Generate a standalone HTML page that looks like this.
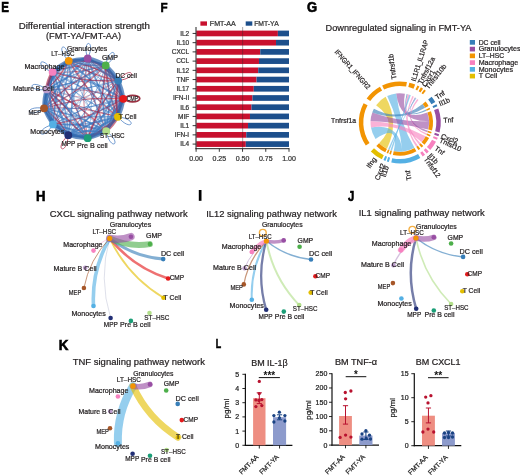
<!DOCTYPE html>
<html><head><meta charset="utf-8"><style>
html,body{margin:0;padding:0;background:#fff;overflow:hidden;width:520px;height:476px;}
svg{display:block;font-family:"Liberation Sans",sans-serif;will-change:transform;}
</style></head><body>
<svg width="520" height="476" viewBox="0 0 520 476">
<rect width="520" height="476" fill="#fff"/>
<text x="1.20" y="12.30" font-size="13.72" fill="#000" font-weight="bold" textLength="7.70" lengthAdjust="spacingAndGlyphs" stroke="#000" stroke-width="0.6">E</text>
<text x="160.50" y="12.30" font-size="13.44" fill="#000" font-weight="bold" textLength="7.10" lengthAdjust="spacingAndGlyphs" stroke="#000" stroke-width="0.6">F</text>
<text x="306.90" y="12.10" font-size="13.72" fill="#000" font-weight="bold" textLength="10.10" lengthAdjust="spacingAndGlyphs" stroke="#000" stroke-width="0.6">G</text>
<text x="36.10" y="200.70" font-size="13.99" fill="#000" font-weight="bold" textLength="9.50" lengthAdjust="spacingAndGlyphs" stroke="#000" stroke-width="0.6">H</text>
<rect x="198.8" y="190.0" width="2.7" height="10.8" fill="#000"/>
<text x="348.00" y="200.60" font-size="14.13" fill="#000" font-weight="bold" textLength="6.30" lengthAdjust="spacingAndGlyphs" stroke="#000" stroke-width="0.6">J</text>
<text x="58.80" y="349.50" font-size="14.27" fill="#000" font-weight="bold" textLength="9.70" lengthAdjust="spacingAndGlyphs" stroke="#000" stroke-width="0.6">K</text>
<text x="215.70" y="347.80" font-size="12.35" fill="#000" font-weight="bold" textLength="5.40" lengthAdjust="spacingAndGlyphs" stroke="#000" stroke-width="0.6">L</text>
<text x="18.70" y="28.60" font-size="9.50" fill="#231f20" stroke="#231f20" stroke-width="0.22" textLength="131.20" lengthAdjust="spacingAndGlyphs">Differential interaction strength</text>
<text x="46.00" y="39.30" font-size="9.30" fill="#231f20" stroke="#231f20" stroke-width="0.22" textLength="75.00" lengthAdjust="spacingAndGlyphs">(FMT-YA/FMT-AA)</text>
<text x="325.50" y="31.00" font-size="9.30" fill="#231f20" stroke="#231f20" stroke-width="0.22" textLength="146.00" lengthAdjust="spacingAndGlyphs">Downregulated signaling in FMT-YA</text>
<text x="49.80" y="216.80" font-size="9.40" fill="#231f20" stroke="#231f20" stroke-width="0.22" textLength="137.90" lengthAdjust="spacingAndGlyphs">CXCL signaling pathway network</text>
<text x="206.20" y="216.80" font-size="9.40" fill="#231f20" stroke="#231f20" stroke-width="0.22" textLength="130.70" lengthAdjust="spacingAndGlyphs">IL12 signaling pathway network</text>
<text x="358.70" y="216.40" font-size="9.40" fill="#231f20" stroke="#231f20" stroke-width="0.22" textLength="126.10" lengthAdjust="spacingAndGlyphs">IL1 signaling pathway network</text>
<text x="72.70" y="365.40" font-size="9.40" fill="#231f20" stroke="#231f20" stroke-width="0.22" textLength="132.30" lengthAdjust="spacingAndGlyphs">TNF signaling pathway network</text>
<g fill="none" stroke-linecap="round">
<path d="M87.70,58.40 Q79.72,98.30 87.70,138.20" stroke="#a81c3c" stroke-width="0.89" stroke-opacity="0.6"/>
<path d="M87.70,58.40 Q70.32,94.86 68.30,135.20" stroke="#3a78c0" stroke-width="0.80" stroke-opacity="0.6"/>
<path d="M87.70,58.40 Q89.67,96.65 106.20,131.20" stroke="#3a78c0" stroke-width="1.50" stroke-opacity="0.6"/>
<path d="M68.30,135.20 Q66.78,101.98 52.60,71.90" stroke="#3a78c0" stroke-width="1.50" stroke-opacity="0.6"/>
<path d="M118.20,80.60 Q81.52,77.84 46.60,89.40" stroke="#3a78c0" stroke-width="1.09" stroke-opacity="0.6"/>
<path d="M46.60,89.40 Q84.01,101.77 123.30,98.80" stroke="#a81c3c" stroke-width="0.62" stroke-opacity="0.6"/>
<path d="M123.30,98.80 Q90.64,78.28 52.60,71.90" stroke="#3a78c0" stroke-width="1.49" stroke-opacity="0.6"/>
<path d="M44.00,108.30 Q80.10,119.94 117.90,116.80" stroke="#3a78c0" stroke-width="0.82" stroke-opacity="0.6"/>
<path d="M52.90,124.40 Q85.20,100.18 105.70,65.40" stroke="#3a78c0" stroke-width="0.70" stroke-opacity="0.6"/>
<path d="M52.90,124.40 Q89.93,109.03 118.20,80.60" stroke="#3a78c0" stroke-width="1.00" stroke-opacity="0.6"/>
<path d="M68.30,135.20 Q93.98,104.04 105.70,65.40" stroke="#3a78c0" stroke-width="1.01" stroke-opacity="0.6"/>
<path d="M117.90,116.80 Q116.94,89.88 105.70,65.40" stroke="#a81c3c" stroke-width="1.47" stroke-opacity="0.6"/>
<path d="M105.70,65.40 Q106.66,92.32 117.90,116.80" stroke="#a81c3c" stroke-width="1.63" stroke-opacity="0.6"/>
<path d="M44.00,108.30 Q70.84,87.72 87.70,58.40" stroke="#3a78c0" stroke-width="1.01" stroke-opacity="0.6"/>
<path d="M106.20,131.20 Q94.49,92.25 68.70,60.80" stroke="#a81c3c" stroke-width="0.80" stroke-opacity="0.6"/>
<path d="M118.20,80.60 Q107.14,104.70 106.20,131.20" stroke="#3a78c0" stroke-width="0.92" stroke-opacity="0.6"/>
<path d="M52.60,71.90 Q73.47,106.91 106.20,131.20" stroke="#3a78c0" stroke-width="0.90" stroke-opacity="0.6"/>
<path d="M68.30,135.20 Q62.03,110.13 46.60,89.40" stroke="#3a78c0" stroke-width="1.58" stroke-opacity="0.6"/>
<path d="M117.90,116.80 Q81.80,105.16 44.00,108.30" stroke="#a81c3c" stroke-width="0.86" stroke-opacity="0.6"/>
<path d="M106.20,131.20 Q112.53,98.25 105.70,65.40" stroke="#3a78c0" stroke-width="1.08" stroke-opacity="0.6"/>
<path d="M68.70,60.80 Q80.41,99.75 106.20,131.20" stroke="#3a78c0" stroke-width="0.80" stroke-opacity="0.6"/>
<path d="M87.70,138.20 Q76.78,101.54 52.60,71.90" stroke="#a81c3c" stroke-width="1.46" stroke-opacity="0.6"/>
<path d="M44.00,108.30 Q83.87,101.87 118.20,80.60" stroke="#a81c3c" stroke-width="0.67" stroke-opacity="0.6"/>
<path d="M106.20,131.20 Q77.39,113.53 44.00,108.30" stroke="#3a78c0" stroke-width="1.27" stroke-opacity="0.6"/>
<path d="M52.90,124.40 Q58.00,98.12 52.60,71.90" stroke="#3a78c0" stroke-width="1.27" stroke-opacity="0.6"/>
<path d="M117.90,116.80 Q84.99,95.97 46.60,89.40" stroke="#3a78c0" stroke-width="0.60" stroke-opacity="0.6"/>
<path d="M106.20,131.20 Q80.23,122.47 52.90,124.40" stroke="#3a78c0" stroke-width="1.65" stroke-opacity="0.6"/>
<path d="M68.70,60.80 Q70.46,101.40 87.70,138.20" stroke="#3a78c0" stroke-width="0.88" stroke-opacity="0.6"/>
<path d="M44.00,108.30 Q72.81,125.97 106.20,131.20" stroke="#3a78c0" stroke-width="1.39" stroke-opacity="0.6"/>
<path d="M44.00,108.30 Q61.10,87.02 68.70,60.80" stroke="#3a78c0" stroke-width="1.14" stroke-opacity="0.6"/>
<path d="M68.30,135.20 Q98.71,112.89 118.20,80.60" stroke="#3a78c0" stroke-width="1.38" stroke-opacity="0.6"/>
<path d="M105.70,65.40 Q73.40,89.62 52.90,124.40" stroke="#3a78c0" stroke-width="1.05" stroke-opacity="0.6"/>
<path d="M68.70,60.80 Q87.70,93.72 117.90,116.80" stroke="#a81c3c" stroke-width="1.48" stroke-opacity="0.6"/>
<path d="M52.60,71.90 Q79.80,73.96 105.70,65.40" stroke="#a81c3c" stroke-width="0.94" stroke-opacity="0.6"/>
<path d="M105.70,65.40 Q99.37,98.35 106.20,131.20" stroke="#3a78c0" stroke-width="1.17" stroke-opacity="0.6"/>
<path d="M52.90,124.40 Q76.90,94.88 87.70,58.40" stroke="#3a78c0" stroke-width="1.42" stroke-opacity="0.6"/>
<path d="M117.90,116.80 Q89.74,87.82 52.60,71.90" stroke="#3a78c0" stroke-width="0.79" stroke-opacity="0.6"/>
<path d="M118.20,80.60 Q81.17,95.97 52.90,124.40" stroke="#3a78c0" stroke-width="0.65" stroke-opacity="0.6"/>
<path d="M87.70,138.20 Q95.68,98.30 87.70,58.40" stroke="#3a78c0" stroke-width="0.69" stroke-opacity="0.6"/>
<path d="M87.70,138.20 Q108.71,112.45 118.20,80.60" stroke="#3a78c0" stroke-width="1.68" stroke-opacity="0.6"/>
<path d="M105.70,65.40 Q73.75,71.49 46.60,89.40" stroke="#3a78c0" stroke-width="1.24" stroke-opacity="0.6"/>
<path d="M52.90,124.40 Q67.16,94.18 68.70,60.80" stroke="#3a78c0" stroke-width="1.55" stroke-opacity="0.6"/>
<path d="M106.20,131.20 Q80.58,104.34 46.60,89.40" stroke="#a81c3c" stroke-width="1.47" stroke-opacity="0.6"/>
<path d="M123.30,98.80 Q85.54,104.56 52.90,124.40" stroke="#3a78c0" stroke-width="0.90" stroke-opacity="0.6"/>
<path d="M87.70,58.40 Q60.86,78.98 44.00,108.30" stroke="#3a78c0" stroke-width="1.54" stroke-opacity="0.6"/>
<path d="M46.60,89.40 Q79.51,110.23 117.90,116.80" stroke="#a81c3c" stroke-width="0.93" stroke-opacity="0.6"/>
<path d="M118.20,80.60 Q97.19,106.35 87.70,138.20" stroke="#a81c3c" stroke-width="1.46" stroke-opacity="0.6"/>
<path d="M68.70,60.80 Q92.20,85.26 123.30,98.80" stroke="#3a78c0" stroke-width="1.34" stroke-opacity="0.6"/>
<path d="M117.90,116.80 Q84.64,114.10 52.90,124.40" stroke="#3a78c0" stroke-width="1.13" stroke-opacity="0.6"/>
<path d="M52.60,71.90 Q85.26,92.42 123.30,98.80" stroke="#3a78c0" stroke-width="1.14" stroke-opacity="0.6"/>
<path d="M52.60,71.90 Q80.76,100.88 117.90,116.80" stroke="#3a78c0" stroke-width="0.96" stroke-opacity="0.6"/>
<path d="M52.90,124.40 Q90.66,118.64 123.30,98.80" stroke="#a81c3c" stroke-width="1.29" stroke-opacity="0.6"/>
<path d="M123.30,98.80 Q92.16,111.50 68.30,135.20" stroke="#3a78c0" stroke-width="1.65" stroke-opacity="0.6"/>
<path d="M123.30,98.80 Q99.80,74.34 68.70,60.80" stroke="#3a78c0" stroke-width="0.92" stroke-opacity="0.6"/>
<path d="M87.70,138.20 Q68.84,118.88 44.00,108.30" stroke="#3a78c0" stroke-width="0.85" stroke-opacity="0.6"/>
<path d="M68.70,60.80 Q91.47,75.65 118.20,80.60" stroke="#a81c3c" stroke-width="1.57" stroke-opacity="0.6"/>
<path d="M87.70,58.40 Q96.96,90.62 117.90,116.80" stroke="#3a78c0" stroke-width="1.43" stroke-opacity="0.6"/>
<path d="M106.20,131.20 Q85.33,96.19 52.60,71.90" stroke="#3a78c0" stroke-width="0.62" stroke-opacity="0.6"/>
<path d="M117.90,116.80 Q91.26,121.04 68.30,135.20" stroke="#3a78c0" stroke-width="1.67" stroke-opacity="0.6"/>
<path d="M106.20,131.20 Q104.23,92.95 87.70,58.40" stroke="#3a78c0" stroke-width="1.11" stroke-opacity="0.6"/>
<path d="M44.00,108.30 Q84.60,111.48 123.30,98.80" stroke="#3a78c0" stroke-width="1.06" stroke-opacity="0.6"/>
<path d="M68.70,60.80 Q54.44,91.02 52.90,124.40" stroke="#3a78c0" stroke-width="1.21" stroke-opacity="0.6"/>
<path d="M68.30,135.20 Q94.94,130.96 117.90,116.80" stroke="#3a78c0" stroke-width="1.16" stroke-opacity="0.6"/>
<path d="M105.70,65.40 Q70.56,80.68 44.00,108.30" stroke="#a81c3c" stroke-width="1.19" stroke-opacity="0.6"/>
<path d="M117.90,116.80 Q108.64,84.58 87.70,58.40" stroke="#3a78c0" stroke-width="0.85" stroke-opacity="0.6"/>
<path d="M46.60,89.40 Q72.22,116.26 106.20,131.20" stroke="#3a78c0" stroke-width="1.66" stroke-opacity="0.6"/>
<path d="M117.90,116.80 Q98.90,83.88 68.70,60.80" stroke="#3a78c0" stroke-width="1.08" stroke-opacity="0.6"/>
<path d="M52.60,71.90 Q84.53,82.81 118.20,80.60" stroke="#a81c3c" stroke-width="1.35" stroke-opacity="0.6"/>
<path d="M52.90,124.40 Q86.16,127.10 117.90,116.80" stroke="#3a78c0" stroke-width="1.22" stroke-opacity="0.6"/>
<path d="M87.70,138.20 Q72.03,109.69 46.60,89.40" stroke="#a81c3c" stroke-width="1.24" stroke-opacity="0.6"/>
<path d="M105.70,65.40 Q78.50,63.34 52.60,71.90" stroke="#a81c3c" stroke-width="0.85" stroke-opacity="0.6"/>
<path d="M44.00,108.30 Q79.14,93.02 105.70,65.40" stroke="#a81c3c" stroke-width="1.16" stroke-opacity="0.6"/>
<path d="M118.20,80.60 Q78.33,87.03 44.00,108.30" stroke="#3a78c0" stroke-width="0.74" stroke-opacity="0.6"/>
<path d="M87.70,138.20 Q103.98,103.60 105.70,65.40" stroke="#a81c3c" stroke-width="1.21" stroke-opacity="0.6"/>
<path d="M52.60,71.90 Q54.12,105.12 68.30,135.20" stroke="#3a78c0" stroke-width="1.23" stroke-opacity="0.6"/>
<path d="M46.60,89.40 Q62.27,117.91 87.70,138.20" stroke="#a81c3c" stroke-width="1.53" stroke-opacity="0.6"/>
<path d="M123.30,98.80 Q85.89,86.43 46.60,89.40" stroke="#a81c3c" stroke-width="0.73" stroke-opacity="0.6"/>
<path d="M87.70,58.40 Q64.05,69.79 46.60,89.40" stroke="#3a78c0" stroke-width="0.82" stroke-opacity="0.6"/>
<path d="M123.30,98.80 Q82.70,95.62 44.00,108.30" stroke="#a81c3c" stroke-width="0.93" stroke-opacity="0.6"/>
<path d="M123.30,98.80 Q109.54,75.04 87.70,58.40" stroke="#a81c3c" stroke-width="0.80" stroke-opacity="0.6"/>
<path d="M68.30,135.20 Q99.44,122.50 123.30,98.80" stroke="#3a78c0" stroke-width="1.46" stroke-opacity="0.6"/>
<path d="M68.30,135.20 Q85.68,98.74 87.70,58.40" stroke="#3a78c0" stroke-width="0.77" stroke-opacity="0.6"/>
<path d="M46.60,89.40 Q83.28,92.16 118.20,80.60" stroke="#3a78c0" stroke-width="1.00" stroke-opacity="0.6"/>
<path d="M46.60,89.40 Q78.55,83.31 105.70,65.40" stroke="#3a78c0" stroke-width="1.60" stroke-opacity="0.6"/>
<path d="M106.20,131.20 Q117.26,107.10 118.20,80.60" stroke="#a81c3c" stroke-width="0.87" stroke-opacity="0.6"/>
<path d="M118.20,80.60 Q95.43,65.75 68.70,60.80" stroke="#a81c3c" stroke-width="1.66" stroke-opacity="0.6"/>
<path d="M52.60,71.90 Q47.50,98.18 52.90,124.40" stroke="#3a78c0" stroke-width="1.20" stroke-opacity="0.6"/>
<path d="M46.60,89.40 Q52.87,114.47 68.30,135.20" stroke="#a81c3c" stroke-width="0.93" stroke-opacity="0.6"/>
<path d="M52.90,124.40 Q78.87,133.13 106.20,131.20" stroke="#3a78c0" stroke-width="1.52" stroke-opacity="0.6"/>
<path d="M46.60,89.40 Q70.25,78.01 87.70,58.40" stroke="#3a78c0" stroke-width="1.35" stroke-opacity="0.6"/>
<path d="M52.60,71.90 Q63.52,108.56 87.70,138.20" stroke="#3a78c0" stroke-width="1.69" stroke-opacity="0.6"/>
<path d="M87.70,138.20 Q109.44,122.06 123.30,98.80" stroke="#3a78c0" stroke-width="1.70" stroke-opacity="0.6"/>
<path d="M68.30,135.20 Q75.94,98.04 68.70,60.80" stroke="#3a78c0" stroke-width="1.48" stroke-opacity="0.6"/>
<path d="M52.60,71.90 Q71.50,68.66 87.70,58.40" stroke="#3a78c0" stroke-width="1.45" stroke-opacity="0.6"/>
<path d="M105.70,65.40 Q111.16,83.86 123.30,98.80" stroke="#3a78c0" stroke-width="1.33" stroke-opacity="0.6"/>
<path d="M52.60,71.90 Q44.66,89.24 44.00,108.30" stroke="#3a78c0" stroke-width="2.03" stroke-opacity="0.6"/>
<path d="M68.30,135.20 Q58.84,119.32 44.00,108.30" stroke="#a81c3c" stroke-width="1.47" stroke-opacity="0.6"/>
<path d="M117.90,116.80 Q121.67,98.73 118.20,80.60" stroke="#a81c3c" stroke-width="1.99" stroke-opacity="0.6"/>
<path d="M123.30,98.80 Q111.51,113.29 106.20,131.20" stroke="#3a78c0" stroke-width="2.14" stroke-opacity="0.6"/>
<path d="M106.20,131.20 Q86.85,129.41 68.30,135.20" stroke="#3a78c0" stroke-width="1.96" stroke-opacity="0.6"/>
<path d="M68.30,135.20 Q87.65,136.99 106.20,131.20" stroke="#3a78c0" stroke-width="2.19" stroke-opacity="0.6"/>
<path d="M117.90,116.80 Q100.66,124.48 87.70,138.20" stroke="#3a78c0" stroke-width="2.14" stroke-opacity="0.6"/>
<path d="M44.00,108.30 Q53.46,124.18 68.30,135.20" stroke="#3a78c0" stroke-width="1.43" stroke-opacity="0.6"/>
<path d="M105.70,65.40 Q87.66,59.40 68.70,60.80" stroke="#a81c3c" stroke-width="1.83" stroke-opacity="0.6"/>
<path d="M52.90,124.40 Q53.25,106.27 46.60,89.40" stroke="#3a78c0" stroke-width="2.18" stroke-opacity="0.6"/>
<path d="M87.70,58.40 Q68.80,61.64 52.60,71.90" stroke="#3a78c0" stroke-width="2.20" stroke-opacity="0.6"/>
<path d="M87.70,138.20 Q71.68,127.82 52.90,124.40" stroke="#3a78c0" stroke-width="1.66" stroke-opacity="0.6"/>
<path d="M44.00,108.30 Q51.94,90.96 52.60,71.90" stroke="#3a78c0" stroke-width="1.24" stroke-opacity="0.6"/>
<path d="M46.60,89.40 Q46.25,107.53 52.90,124.40" stroke="#3a78c0" stroke-width="2.16" stroke-opacity="0.6"/>
<path d="M87.70,138.20 Q104.94,130.52 117.90,116.80" stroke="#a81c3c" stroke-width="2.19" stroke-opacity="0.6"/>
<path d="M118.20,80.60 Q114.43,98.67 117.90,116.80" stroke="#a81c3c" stroke-width="1.95" stroke-opacity="0.6"/>
<path d="M118.20,80.60 Q105.17,66.45 87.70,58.40" stroke="#a81c3c" stroke-width="1.32" stroke-opacity="0.6"/>
<path d="M87.70,58.40 Q100.73,72.55 118.20,80.60" stroke="#3a78c0" stroke-width="2.15" stroke-opacity="0.6"/>
<path d="M52.90,124.40 Q68.92,134.78 87.70,138.20" stroke="#3a78c0" stroke-width="1.94" stroke-opacity="0.6"/>
<path d="M68.70,60.80 Q86.74,66.80 105.70,65.40" stroke="#3a78c0" stroke-width="1.59" stroke-opacity="0.6"/>
<path d="M106.20,131.20 Q117.99,116.71 123.30,98.80" stroke="#a81c3c" stroke-width="1.78" stroke-opacity="0.6"/>
<path d="M123.30,98.80 Q117.84,80.34 105.70,65.40" stroke="#a81c3c" stroke-width="1.42" stroke-opacity="0.6"/>
<path d="M68.70,60.80 Q54.79,72.89 46.60,89.40" stroke="#3a78c0" stroke-width="1.63" stroke-opacity="0.6"/>
<path d="M46.60,89.40 Q60.51,77.31 68.70,60.80" stroke="#a81c3c" stroke-width="1.31" stroke-opacity="0.6"/>
<path d="M52.60,71.90 Q61.76,67.96 68.70,60.80" stroke="#2c64ab" stroke-width="3.72" stroke-opacity="0.7"/>
<path d="M46.60,89.40 Q43.41,98.59 44.00,108.30" stroke="#2c64ab" stroke-width="3.33" stroke-opacity="0.7"/>
<path d="M105.70,65.40 Q97.40,60.10 87.70,58.40" stroke="#2c64ab" stroke-width="3.69" stroke-opacity="0.7"/>
<path d="M105.70,65.40 Q110.43,74.25 118.20,80.60" stroke="#2c64ab" stroke-width="3.35" stroke-opacity="0.7"/>
<path d="M68.70,60.80 Q59.54,64.74 52.60,71.90" stroke="#2c64ab" stroke-width="3.45" stroke-opacity="0.7"/>
<path d="M52.90,124.40 Q50.06,115.46 44.00,108.30" stroke="#2c64ab" stroke-width="3.64" stroke-opacity="0.7"/>
<path d="M117.90,116.80 Q122.40,108.34 123.30,98.80" stroke="#2c64ab" stroke-width="3.75" stroke-opacity="0.7"/>
<path d="M123.30,98.80 Q122.57,89.19 118.20,80.60" stroke="#2c64ab" stroke-width="3.65" stroke-opacity="0.7"/>
<path d="M46.60,89.40 Q51.35,81.25 52.60,71.90" stroke="#2c64ab" stroke-width="3.67" stroke-opacity="0.7"/>
<path d="M87.70,138.20 Q97.65,136.55 106.20,131.20" stroke="#2c64ab" stroke-width="3.09" stroke-opacity="0.7"/>
<path d="M118.20,80.60 Q118.93,90.21 123.30,98.80" stroke="#2c64ab" stroke-width="3.26" stroke-opacity="0.7"/>
<path d="M68.70,60.80 Q78.44,61.50 87.70,58.40" stroke="#2c64ab" stroke-width="3.18" stroke-opacity="0.7"/>
<path d="M87.70,58.40 Q77.96,57.70 68.70,60.80" stroke="#2c64ab" stroke-width="2.66" stroke-opacity="0.7"/>
<path d="M52.60,71.90 Q47.85,80.05 46.60,89.40" stroke="#a81c3c" stroke-width="3.24" stroke-opacity="0.6"/>
<path d="M68.30,135.20 Q77.70,138.64 87.70,138.20" stroke="#2c64ab" stroke-width="3.35" stroke-opacity="0.7"/>
<path d="M106.20,131.20 Q113.49,125.17 117.90,116.80" stroke="#a81c3c" stroke-width="2.66" stroke-opacity="0.6"/>
<path d="M87.70,138.20 Q78.30,134.76 68.30,135.20" stroke="#2c64ab" stroke-width="3.31" stroke-opacity="0.7"/>
<path d="M118.20,80.60 Q113.47,71.75 105.70,65.40" stroke="#2c64ab" stroke-width="3.40" stroke-opacity="0.7"/>
<path d="M123.30,98.80 Q118.80,107.26 117.90,116.80" stroke="#2c64ab" stroke-width="3.49" stroke-opacity="0.7"/>
<path d="M52.90,124.40 Q59.52,131.34 68.30,135.20" stroke="#2c64ab" stroke-width="3.02" stroke-opacity="0.7"/>
<path d="M106.20,131.20 Q96.25,132.85 87.70,138.20" stroke="#2c64ab" stroke-width="3.75" stroke-opacity="0.7"/>
<path d="M87.70,58.40 Q96.00,63.70 105.70,65.40" stroke="#2c64ab" stroke-width="2.86" stroke-opacity="0.7"/>
<path d="M117.90,116.80 Q110.61,122.83 106.20,131.20" stroke="#2c64ab" stroke-width="3.41" stroke-opacity="0.7"/>
<path d="M68.30,135.20 Q61.68,128.26 52.90,124.40" stroke="#2c64ab" stroke-width="3.01" stroke-opacity="0.7"/>
<path d="M44.00,108.30 Q47.19,99.11 46.60,89.40" stroke="#2c64ab" stroke-width="2.82" stroke-opacity="0.7"/>
<path d="M44.00,108.30 Q46.84,117.24 52.90,124.40" stroke="#2c64ab" stroke-width="2.76" stroke-opacity="0.7"/>
</g>
<g fill="none">
<path d="M117.90,116.80 C139.25,119.37 131.60,133.37 117.90,116.80" stroke="#3b73bd" stroke-width="0.9" stroke-opacity="0.8"/>
<path d="M106.20,131.20 C123.76,143.61 110.38,152.29 106.20,131.20" stroke="#3b73bd" stroke-width="0.9" stroke-opacity="0.8"/>
<path d="M68.30,135.20 C67.03,156.66 52.59,149.88 68.30,135.20" stroke="#a81c3c" stroke-width="0.9" stroke-opacity="0.8"/>
<path d="M52.90,124.40 C42.11,142.99 32.27,130.44 52.90,124.40" stroke="#3b73bd" stroke-width="0.9" stroke-opacity="0.8"/>
<path d="M44.00,108.30 C26.27,120.47 22.77,104.91 44.00,108.30" stroke="#3b73bd" stroke-width="0.9" stroke-opacity="0.8"/>
<path d="M46.60,89.40 C25.30,92.33 29.14,76.85 46.60,89.40" stroke="#3b73bd" stroke-width="0.9" stroke-opacity="0.8"/>
<path d="M52.60,71.90 C32.14,65.30 42.32,53.02 52.60,71.90" stroke="#3b73bd" stroke-width="0.9" stroke-opacity="0.8"/>
<path d="M68.70,60.80 C53.43,45.67 68.06,39.31 68.70,60.80" stroke="#3b73bd" stroke-width="0.9" stroke-opacity="0.8"/>
<path d="M87.70,58.40 C80.92,38.00 96.84,38.94 87.70,58.40" stroke="#3b73bd" stroke-width="0.9" stroke-opacity="0.8"/>
<path d="M105.70,65.40 C109.25,44.19 122.88,52.47 105.70,65.40" stroke="#3b73bd" stroke-width="0.9" stroke-opacity="0.8"/>
<path d="M118.20,80.60 C131.73,63.89 139.52,77.81 118.20,80.60" stroke="#a81c3c" stroke-width="0.9" stroke-opacity="0.8"/>
<ellipse cx="132.6" cy="98.6" rx="7.2" ry="3.3" stroke="#8e1b2e" stroke-width="1.7" stroke-opacity="0.9"/>
<path d="M123.3,98.8 L126,98.6" stroke="#8e1b2e" stroke-width="1.5"/>
</g>
<circle cx="123.3" cy="98.8" r="3.9" fill="#E41A1C"/>
<circle cx="117.9" cy="116.8" r="3.9" fill="#E3BE00"/>
<circle cx="106.2" cy="131.2" r="3.9" fill="#B2DF8A"/>
<circle cx="87.7" cy="138.2" r="3.9" fill="#1B9E77"/>
<circle cx="68.3" cy="135.2" r="3.9" fill="#222F75"/>
<circle cx="52.9" cy="124.4" r="3.9" fill="#54B0E4"/>
<circle cx="44.0" cy="108.3" r="3.9" fill="#A65628"/>
<circle cx="46.6" cy="89.4" r="3.9" fill="#BC9DCC"/>
<circle cx="52.6" cy="71.9" r="3.9" fill="#F781BF"/>
<circle cx="68.7" cy="60.8" r="3.9" fill="#F29403"/>
<circle cx="87.7" cy="58.4" r="3.9" fill="#984EA3"/>
<circle cx="105.7" cy="65.4" r="3.9" fill="#4DAF4A"/>
<circle cx="118.2" cy="80.6" r="3.9" fill="#377EB8"/>
<text x="66.90" y="50.60" font-size="6.90" fill="#231f20" stroke="#231f20" stroke-width="0.22" textLength="40.40" lengthAdjust="spacingAndGlyphs">Granulocytes</text>
<text x="51.20" y="55.80" font-size="6.90" fill="#231f20" stroke="#231f20" stroke-width="0.22" textLength="23.40" lengthAdjust="spacingAndGlyphs">LT–HSC</text>
<text x="101.90" y="59.80" font-size="6.90" fill="#231f20" stroke="#231f20" stroke-width="0.22" textLength="16.00" lengthAdjust="spacingAndGlyphs">GMP</text>
<text x="24.60" y="69.20" font-size="6.90" fill="#231f20" stroke="#231f20" stroke-width="0.22" textLength="40.00" lengthAdjust="spacingAndGlyphs">Macrophage</text>
<text x="115.40" y="77.50" font-size="6.90" fill="#231f20" stroke="#231f20" stroke-width="0.22" textLength="21.60" lengthAdjust="spacingAndGlyphs">DC cell</text>
<text x="12.90" y="91.00" font-size="6.90" fill="#231f20" stroke="#231f20" stroke-width="0.22" textLength="40.90" lengthAdjust="spacingAndGlyphs">Mature B Cell</text>
<text x="126.90" y="100.90" font-size="6.90" fill="#231f20" stroke="#231f20" stroke-width="0.22" textLength="11.40" lengthAdjust="spacingAndGlyphs">CMP</text>
<text x="28.60" y="114.60" font-size="6.90" fill="#231f20" stroke="#231f20" stroke-width="0.22" textLength="12.40" lengthAdjust="spacingAndGlyphs">MEP</text>
<text x="118.80" y="119.40" font-size="6.90" fill="#231f20" stroke="#231f20" stroke-width="0.22" textLength="17.60" lengthAdjust="spacingAndGlyphs">T Cell</text>
<text x="30.30" y="133.80" font-size="6.90" fill="#231f20" stroke="#231f20" stroke-width="0.22" textLength="34.00" lengthAdjust="spacingAndGlyphs">Monocytes</text>
<text x="100.00" y="137.80" font-size="6.90" fill="#231f20" stroke="#231f20" stroke-width="0.22" textLength="24.60" lengthAdjust="spacingAndGlyphs">ST–HSC</text>
<text x="61.50" y="146.20" font-size="6.90" fill="#231f20" stroke="#231f20" stroke-width="0.22" textLength="13.90" lengthAdjust="spacingAndGlyphs">MPP</text>
<text x="76.90" y="147.70" font-size="6.90" fill="#231f20" stroke="#231f20" stroke-width="0.22" textLength="30.80" lengthAdjust="spacingAndGlyphs">Pre B cell</text>
<rect x="196.3" y="30.60" width="81.58" height="5.7" fill="#c8102e"/>
<rect x="277.88" y="30.60" width="11.12" height="5.7" fill="#1c4f8c"/>
<line x1="192.6" y1="33.45" x2="196.1" y2="33.45" stroke="#222" stroke-width="0.9"/>
<text x="189.20" y="35.75" font-size="6.50" fill="#333" stroke="#333" stroke-width="0.22" text-anchor="end">IL2</text>
<rect x="196.3" y="39.82" width="79.72" height="5.7" fill="#c8102e"/>
<rect x="276.02" y="39.82" width="12.98" height="5.7" fill="#1c4f8c"/>
<line x1="192.6" y1="42.67" x2="196.1" y2="42.67" stroke="#222" stroke-width="0.9"/>
<text x="189.20" y="44.97" font-size="6.50" fill="#333" stroke="#333" stroke-width="0.22" text-anchor="end">IL10</text>
<rect x="196.3" y="49.04" width="63.96" height="5.7" fill="#c8102e"/>
<rect x="260.26" y="49.04" width="28.74" height="5.7" fill="#1c4f8c"/>
<line x1="192.6" y1="51.89" x2="196.1" y2="51.89" stroke="#222" stroke-width="0.9"/>
<text x="189.20" y="54.19" font-size="6.50" fill="#333" stroke="#333" stroke-width="0.22" text-anchor="end">CXCL</text>
<rect x="196.3" y="58.26" width="62.67" height="5.7" fill="#c8102e"/>
<rect x="258.97" y="58.26" width="30.03" height="5.7" fill="#1c4f8c"/>
<line x1="192.6" y1="61.11" x2="196.1" y2="61.11" stroke="#222" stroke-width="0.9"/>
<text x="189.20" y="63.41" font-size="6.50" fill="#333" stroke="#333" stroke-width="0.22" text-anchor="end">CCL</text>
<rect x="196.3" y="67.48" width="61.92" height="5.7" fill="#c8102e"/>
<rect x="258.22" y="67.48" width="30.78" height="5.7" fill="#1c4f8c"/>
<line x1="192.6" y1="70.33" x2="196.1" y2="70.33" stroke="#222" stroke-width="0.9"/>
<text x="189.20" y="72.63" font-size="6.50" fill="#333" stroke="#333" stroke-width="0.22" text-anchor="end">IL12</text>
<rect x="196.3" y="76.70" width="60.25" height="5.7" fill="#c8102e"/>
<rect x="256.56" y="76.70" width="32.44" height="5.7" fill="#1c4f8c"/>
<line x1="192.6" y1="79.55" x2="196.1" y2="79.55" stroke="#222" stroke-width="0.9"/>
<text x="189.20" y="81.85" font-size="6.50" fill="#333" stroke="#333" stroke-width="0.22" text-anchor="end">TNF</text>
<rect x="196.3" y="85.92" width="57.47" height="5.7" fill="#c8102e"/>
<rect x="253.77" y="85.92" width="35.23" height="5.7" fill="#1c4f8c"/>
<line x1="192.6" y1="88.77" x2="196.1" y2="88.77" stroke="#222" stroke-width="0.9"/>
<text x="189.20" y="91.07" font-size="6.50" fill="#333" stroke="#333" stroke-width="0.22" text-anchor="end">IL17</text>
<rect x="196.3" y="95.14" width="56.18" height="5.7" fill="#c8102e"/>
<rect x="252.48" y="95.14" width="36.52" height="5.7" fill="#1c4f8c"/>
<line x1="192.6" y1="97.99" x2="196.1" y2="97.99" stroke="#222" stroke-width="0.9"/>
<text x="189.20" y="100.29" font-size="6.50" fill="#333" stroke="#333" stroke-width="0.22" text-anchor="end">IFN-II</text>
<rect x="196.3" y="104.36" width="55.16" height="5.7" fill="#c8102e"/>
<rect x="251.46" y="104.36" width="37.54" height="5.7" fill="#1c4f8c"/>
<line x1="192.6" y1="107.21" x2="196.1" y2="107.21" stroke="#222" stroke-width="0.9"/>
<text x="189.20" y="109.51" font-size="6.50" fill="#333" stroke="#333" stroke-width="0.22" text-anchor="end">IL6</text>
<rect x="196.3" y="113.58" width="53.67" height="5.7" fill="#c8102e"/>
<rect x="249.97" y="113.58" width="39.03" height="5.7" fill="#1c4f8c"/>
<line x1="192.6" y1="116.43" x2="196.1" y2="116.43" stroke="#222" stroke-width="0.9"/>
<text x="189.20" y="118.73" font-size="6.50" fill="#333" stroke="#333" stroke-width="0.22" text-anchor="end">MIF</text>
<rect x="196.3" y="122.80" width="51.73" height="5.7" fill="#c8102e"/>
<rect x="248.03" y="122.80" width="40.97" height="5.7" fill="#1c4f8c"/>
<line x1="192.6" y1="125.65" x2="196.1" y2="125.65" stroke="#222" stroke-width="0.9"/>
<text x="189.20" y="127.95" font-size="6.50" fill="#333" stroke="#333" stroke-width="0.22" text-anchor="end">IL1</text>
<rect x="196.3" y="132.02" width="49.97" height="5.7" fill="#c8102e"/>
<rect x="246.27" y="132.02" width="42.73" height="5.7" fill="#1c4f8c"/>
<line x1="192.6" y1="134.87" x2="196.1" y2="134.87" stroke="#222" stroke-width="0.9"/>
<text x="189.20" y="137.17" font-size="6.50" fill="#333" stroke="#333" stroke-width="0.22" text-anchor="end">IFN-I</text>
<rect x="196.3" y="141.24" width="49.50" height="5.7" fill="#c8102e"/>
<rect x="245.80" y="141.24" width="43.20" height="5.7" fill="#1c4f8c"/>
<line x1="192.6" y1="144.09" x2="196.1" y2="144.09" stroke="#222" stroke-width="0.9"/>
<text x="189.20" y="146.39" font-size="6.50" fill="#333" stroke="#333" stroke-width="0.22" text-anchor="end">IL4</text>
<line x1="242.65" y1="27" x2="242.65" y2="148.7" stroke="#3a2a2a" stroke-width="0.6" stroke-opacity="0.7"/>
<line x1="196.0" y1="27" x2="196.0" y2="149.2" stroke="#222" stroke-width="1.0"/>
<line x1="195.5" y1="148.7" x2="289.5" y2="148.7" stroke="#222" stroke-width="1.0"/>
<line x1="196.10" y1="148.7" x2="196.10" y2="151.8" stroke="#222" stroke-width="0.9"/>
<text x="196.10" y="161.10" font-size="7.00" fill="#333" stroke="#333" stroke-width="0.22" text-anchor="middle">0.00</text>
<line x1="219.32" y1="148.7" x2="219.32" y2="151.8" stroke="#222" stroke-width="0.9"/>
<text x="219.32" y="161.10" font-size="7.00" fill="#333" stroke="#333" stroke-width="0.22" text-anchor="middle">0.25</text>
<line x1="242.55" y1="148.7" x2="242.55" y2="151.8" stroke="#222" stroke-width="0.9"/>
<text x="242.55" y="161.10" font-size="7.00" fill="#333" stroke="#333" stroke-width="0.22" text-anchor="middle">0.50</text>
<line x1="265.77" y1="148.7" x2="265.77" y2="151.8" stroke="#222" stroke-width="0.9"/>
<text x="265.77" y="161.10" font-size="7.00" fill="#333" stroke="#333" stroke-width="0.22" text-anchor="middle">0.75</text>
<line x1="289.00" y1="148.7" x2="289.00" y2="151.8" stroke="#222" stroke-width="0.9"/>
<text x="289.00" y="161.10" font-size="7.00" fill="#333" stroke="#333" stroke-width="0.22" text-anchor="middle">1.00</text>
<rect x="200.4" y="21.4" width="6.6" height="4.3" fill="#c8102e"/>
<text x="209.80" y="25.80" font-size="6.60" fill="#333" stroke="#333" stroke-width="0.22" textLength="26.00" lengthAdjust="spacingAndGlyphs">FMT-AA</text>
<rect x="245.7" y="21.4" width="6.6" height="4.3" fill="#1c4f8c"/>
<text x="254.20" y="25.80" font-size="6.60" fill="#333" stroke="#333" stroke-width="0.22" textLength="24.50" lengthAdjust="spacingAndGlyphs">FMT-YA</text>
<path d="M386.96,148.83 A29.3,29.3 0 0 1 379.08,143.22 Q399.8,122.5 376.10,105.28 A29.3,29.3 0 0 1 385.60,96.87 Q399.8,122.5 386.96,148.83 Z" fill="#E3BE00" fill-opacity="0.62"/>
<path d="M402.35,151.69 A29.3,29.3 0 0 1 393.71,151.16 Q399.8,122.5 375.51,138.88 A29.3,29.3 0 0 1 370.95,127.59 Q399.8,122.5 402.35,151.69 Z" fill="#54B0E4" fill-opacity="0.62"/>
<path d="M414.45,147.87 A29.3,29.3 0 0 1 402.35,151.69 Q399.8,122.5 387.19,96.05 A29.3,29.3 0 0 1 396.23,93.42 Q399.8,122.5 414.45,147.87 Z" fill="#54B0E4" fill-opacity="0.62"/>
<path d="M425.67,136.26 A29.3,29.3 0 0 1 421.57,142.11 Q399.8,122.5 370.95,127.59 A29.3,29.3 0 0 1 370.54,120.97 Q399.8,122.5 425.67,136.26 Z" fill="#F781BF" fill-opacity="0.62"/>
<path d="M429.06,120.97 A29.3,29.3 0 0 1 428.23,129.59 Q399.8,122.5 370.54,120.97 A29.3,29.3 0 0 1 372.27,112.48 Q399.8,122.5 429.06,120.97 Z" fill="#984EA3" fill-opacity="0.62"/>
<path d="M427.33,112.48 A29.3,29.3 0 0 1 429.06,120.97 Q399.8,122.5 396.23,93.42 A29.3,29.3 0 0 1 404.89,93.65 Q399.8,122.5 427.33,112.48 Z" fill="#984EA3" fill-opacity="0.62"/>
<path d="M422.57,104.06 A29.3,29.3 0 0 1 425.17,107.85 Q399.8,122.5 372.27,112.48 A29.3,29.3 0 0 1 373.93,108.74 Q399.8,122.5 422.57,104.06 Z" fill="#377EB8" fill-opacity="0.62"/>
<path d="M426.02,109.43 A29.3,29.3 0 0 1 426.67,110.82 Q399.8,122.5 406.64,94.01 A29.3,29.3 0 0 1 407.63,94.27 Q399.8,122.5 426.02,109.43 Z" fill="#377EB8" fill-opacity="0.62"/>
<path d="M420.52,143.22 A29.3,29.3 0 0 1 419.02,144.61 Q399.8,122.5 407.63,94.27 A29.3,29.3 0 0 1 409.34,94.80 Q399.8,122.5 420.52,143.22 Z" fill="#F781BF" fill-opacity="0.62"/>
<path d="M391.97,150.73 A29.3,29.3 0 0 1 390.50,150.29 Q399.8,122.5 409.34,94.80 A29.3,29.3 0 0 1 410.78,95.33 Q399.8,122.5 391.97,150.73 Z" fill="#54B0E4" fill-opacity="0.62"/>
<path d="M417.84,145.59 A29.3,29.3 0 0 1 416.18,146.79 Q399.8,122.5 412.41,96.05 A29.3,29.3 0 0 1 413.78,96.75 Q399.8,122.5 417.84,145.59 Z" fill="#F781BF" fill-opacity="0.62"/>
<path d="M427.89,130.82 A29.3,29.3 0 0 1 427.42,132.28 Q399.8,122.5 414.89,97.38 A29.3,29.3 0 0 1 415.67,97.87 Q399.8,122.5 427.89,130.82 Z" fill="#984EA3" fill-opacity="0.62"/>
<path d="M389.54,149.94 A29.3,29.3 0 0 1 388.12,149.37 Q399.8,122.5 415.67,97.87 A29.3,29.3 0 0 1 416.40,98.35 Q399.8,122.5 389.54,149.94 Z" fill="#54B0E4" fill-opacity="0.62"/>
<path d="M426.97,133.48 A29.3,29.3 0 0 1 426.35,134.88 Q399.8,122.5 417.23,98.95 A29.3,29.3 0 0 1 418.44,99.89 Q399.8,122.5 426.97,133.48 Z" fill="#F781BF" fill-opacity="0.62"/>
<path d="M431.66,96.70 A41.0,41.0 0 0 1 435.31,102.00 L431.41,104.25 A36.5,36.5 0 0 0 428.17,99.53 Z" fill="#377EB8"/>
<path d="M425.60,101.61 A33.2,33.2 0 0 1 428.55,105.90 L425.26,107.80 A29.4,29.4 0 0 0 422.65,104.00 Z" fill="#F29403"/>
<path d="M436.49,104.21 A41.0,41.0 0 0 1 437.40,106.15 L433.27,107.95 A36.5,36.5 0 0 0 432.47,106.21 Z" fill="#377EB8"/>
<path d="M429.51,107.69 A33.2,33.2 0 0 1 430.25,109.26 L426.76,110.78 A29.4,29.4 0 0 0 426.11,109.38 Z" fill="#F29403"/>
<path d="M438.33,108.48 A41.0,41.0 0 0 1 439.58,132.42 L435.22,131.33 A36.5,36.5 0 0 0 434.10,110.02 Z" fill="#984EA3"/>
<path d="M431.00,111.14 A33.2,33.2 0 0 1 432.01,130.53 L428.33,129.61 A29.4,29.4 0 0 0 427.43,112.44 Z" fill="#F29403"/>
<path d="M439.11,134.14 A41.0,41.0 0 0 1 438.45,136.19 L434.21,134.68 A36.5,36.5 0 0 0 434.80,132.87 Z" fill="#984EA3"/>
<path d="M431.63,131.93 A33.2,33.2 0 0 1 431.10,133.58 L427.51,132.31 A29.4,29.4 0 0 0 427.99,130.85 Z" fill="#F29403"/>
<path d="M437.81,137.86 A41.0,41.0 0 0 1 436.96,139.83 L432.88,137.93 A36.5,36.5 0 0 0 433.64,136.17 Z" fill="#F781BF"/>
<path d="M430.58,134.94 A33.2,33.2 0 0 1 429.89,136.53 L426.45,134.92 A29.4,29.4 0 0 0 427.06,133.51 Z" fill="#F29403"/>
<path d="M436.00,141.75 A41.0,41.0 0 0 1 430.27,149.93 L426.92,146.92 A36.5,36.5 0 0 0 432.03,139.64 Z" fill="#F781BF"/>
<path d="M429.11,138.09 A33.2,33.2 0 0 1 424.47,144.72 L421.65,142.17 A29.4,29.4 0 0 0 425.76,136.30 Z" fill="#F29403"/>
<path d="M428.79,151.49 A41.0,41.0 0 0 1 426.70,153.44 L423.75,150.05 A36.5,36.5 0 0 0 425.61,148.31 Z" fill="#F781BF"/>
<path d="M423.28,145.98 A33.2,33.2 0 0 1 421.58,147.56 L419.09,144.69 A29.4,29.4 0 0 0 420.59,143.29 Z" fill="#F29403"/>
<path d="M425.04,154.81 A41.0,41.0 0 0 1 422.73,156.49 L420.21,152.76 A36.5,36.5 0 0 0 422.27,151.26 Z" fill="#F781BF"/>
<path d="M420.24,148.66 A33.2,33.2 0 0 1 418.37,150.02 L416.24,146.87 A29.4,29.4 0 0 0 417.90,145.67 Z" fill="#F29403"/>
<path d="M420.30,158.01 A41.0,41.0 0 0 1 391.28,162.60 L392.21,158.20 A36.5,36.5 0 0 0 418.05,154.11 Z" fill="#54B0E4"/>
<path d="M416.40,151.25 A33.2,33.2 0 0 1 392.90,154.97 L393.69,151.26 A29.4,29.4 0 0 0 414.50,147.96 Z" fill="#F29403"/>
<path d="M388.84,162.01 A41.0,41.0 0 0 1 386.79,161.38 L388.22,157.11 A36.5,36.5 0 0 0 390.05,157.67 Z" fill="#54B0E4"/>
<path d="M390.93,154.49 A33.2,33.2 0 0 1 389.27,153.98 L390.47,150.38 A29.4,29.4 0 0 0 391.94,150.83 Z" fill="#F29403"/>
<path d="M385.44,160.90 A41.0,41.0 0 0 1 383.45,160.10 L385.25,155.97 A36.5,36.5 0 0 0 387.02,156.69 Z" fill="#54B0E4"/>
<path d="M388.17,153.60 A33.2,33.2 0 0 1 386.56,152.95 L388.08,149.46 A29.4,29.4 0 0 0 389.50,150.04 Z" fill="#F29403"/>
<path d="M381.83,159.35 A41.0,41.0 0 0 1 370.81,151.49 L373.99,148.31 A36.5,36.5 0 0 0 383.80,155.31 Z" fill="#E3BE00"/>
<path d="M385.25,152.34 A33.2,33.2 0 0 1 376.32,145.98 L379.01,143.29 A29.4,29.4 0 0 0 386.91,148.92 Z" fill="#F29403"/>
<path d="M365.81,145.43 A41.0,41.0 0 0 1 363.60,103.25 L367.57,105.36 A36.5,36.5 0 0 0 369.54,142.91 Z" fill="#F29403"/>
<path d="M366.63,98.40 A41.0,41.0 0 0 1 379.92,86.64 L382.10,90.58 A36.5,36.5 0 0 0 370.27,101.05 Z" fill="#F29403"/>
<path d="M382.15,85.49 A41.0,41.0 0 0 1 406.92,82.12 L406.14,86.55 A36.5,36.5 0 0 0 384.09,89.56 Z" fill="#F29403"/>
<path d="M409.37,82.63 A41.0,41.0 0 0 1 415.16,84.49 L413.47,88.66 A36.5,36.5 0 0 0 408.32,87.01 Z" fill="#F29403"/>
<path d="M417.45,85.49 A41.0,41.0 0 0 1 419.36,86.47 L417.22,90.42 A36.5,36.5 0 0 0 415.51,89.56 Z" fill="#F29403"/>
<path d="M420.92,87.36 A41.0,41.0 0 0 1 423.02,88.71 L420.47,92.42 A36.5,36.5 0 0 0 418.60,91.21 Z" fill="#F29403"/>
<path d="M424.19,89.54 A41.0,41.0 0 0 1 425.88,90.86 L423.02,94.34 A36.5,36.5 0 0 0 421.51,93.16 Z" fill="#F29403"/>
<text x="435.73" y="97.80" font-size="7.00" fill="#231f20" stroke="#231f20" stroke-width="0.22" transform="rotate(-34.50 435.73 97.80)" dominant-baseline="central">Tnf</text>
<text x="439.32" y="104.07" font-size="7.00" fill="#231f20" stroke="#231f20" stroke-width="0.22" transform="rotate(-25.00 439.32 104.07)" dominant-baseline="central">Il1b</text>
<text x="443.34" y="120.22" font-size="7.00" fill="#231f20" stroke="#231f20" stroke-width="0.22" transform="rotate(-3.00 443.34 120.22)" dominant-baseline="central">Tnf</text>
<text x="441.27" y="135.97" font-size="7.00" fill="#231f20" stroke="#231f20" stroke-width="0.22" transform="rotate(18.00 441.27 135.97)" dominant-baseline="central">Cxcl2</text>
<text x="439.78" y="139.89" font-size="7.00" fill="#231f20" stroke="#231f20" stroke-width="0.22" transform="rotate(23.50 439.78 139.89)" dominant-baseline="central">Tnfsf10</text>
<text x="435.52" y="147.51" font-size="7.00" fill="#231f20" stroke="#231f20" stroke-width="0.22" transform="rotate(35.00 435.52 147.51)" dominant-baseline="central">Tnf</text>
<text x="429.54" y="154.39" font-size="7.00" fill="#231f20" stroke="#231f20" stroke-width="0.22" transform="rotate(47.00 429.54 154.39)" dominant-baseline="central">Il1b</text>
<text x="425.43" y="157.77" font-size="7.00" fill="#231f20" stroke="#231f20" stroke-width="0.22" transform="rotate(54.00 425.43 157.77)" dominant-baseline="central">Tnfsf12</text>
<text x="407.40" y="170.50" font-size="7.00" fill="#231f20" stroke="#231f20" stroke-width="0.22" text-anchor="end" transform="rotate(261.00 407.40 170.50)" dominant-baseline="central">Tnf</text>
<text x="386.50" y="166.01" font-size="7.00" fill="#231f20" stroke="#231f20" stroke-width="0.22" text-anchor="end" transform="rotate(287.00 386.50 166.01)" dominant-baseline="central">Il1b</text>
<text x="383.20" y="163.57" font-size="7.00" fill="#231f20" stroke="#231f20" stroke-width="0.22" text-anchor="end" transform="rotate(292.00 383.20 163.57)" dominant-baseline="central">Cxcl2</text>
<text x="374.66" y="157.75" font-size="7.00" fill="#231f20" stroke="#231f20" stroke-width="0.22" text-anchor="end" transform="rotate(305.50 374.66 157.75)" dominant-baseline="central">Ifng</text>
<text x="356.10" y="123.40" font-size="7.00" fill="#231f20" stroke="#231f20" stroke-width="0.22" text-anchor="end" textLength="25.00" lengthAdjust="spacingAndGlyphs">Tnfrsf1a</text>
<text x="369.32" y="88.05" font-size="7.00" fill="#231f20" stroke="#231f20" stroke-width="0.22" text-anchor="end" textLength="50.00" lengthAdjust="spacingAndGlyphs" transform="rotate(48.50 369.32 88.05)" dominant-baseline="central">IFNGR1_IFNGR2</text>
<text x="393.92" y="79.30" font-size="7.00" fill="#231f20" stroke="#231f20" stroke-width="0.22" transform="rotate(-97.75 393.92 79.30)" dominant-baseline="central">Tnfrsf1b</text>
<text x="413.09" y="80.98" font-size="7.00" fill="#231f20" stroke="#231f20" stroke-width="0.22" textLength="43.00" lengthAdjust="spacingAndGlyphs" transform="rotate(-72.25 413.09 80.98)" dominant-baseline="central">IL1R1_IL1RAP</text>
<text x="419.59" y="83.65" font-size="7.00" fill="#231f20" stroke="#231f20" stroke-width="0.22" transform="rotate(-63.00 419.59 83.65)" dominant-baseline="central">Tnfrsf12a</text>
<text x="423.39" y="85.83" font-size="7.00" fill="#231f20" stroke="#231f20" stroke-width="0.22" transform="rotate(-57.25 423.39 85.83)" dominant-baseline="central">Cxcr1</text>
<text x="426.64" y="88.14" font-size="7.00" fill="#231f20" stroke="#231f20" stroke-width="0.22" transform="rotate(-52.00 426.64 88.14)" dominant-baseline="central">Tnfrsf10b</text>
<rect x="469.8" y="40.00" width="5.2" height="4.7" fill="#377EB8"/>
<text x="478.70" y="44.60" font-size="7.00" fill="#231f20" stroke="#231f20" stroke-width="0.22" textLength="21.90" lengthAdjust="spacingAndGlyphs">DC cell</text>
<rect x="469.8" y="46.75" width="5.2" height="4.7" fill="#984EA3"/>
<text x="478.70" y="51.35" font-size="7.00" fill="#231f20" stroke="#231f20" stroke-width="0.22" textLength="41.90" lengthAdjust="spacingAndGlyphs">Granulocytes</text>
<rect x="469.8" y="53.50" width="5.2" height="4.7" fill="#F29403"/>
<text x="478.70" y="58.10" font-size="7.00" fill="#231f20" stroke="#231f20" stroke-width="0.22" textLength="25.50" lengthAdjust="spacingAndGlyphs">LT–HSC</text>
<rect x="469.8" y="60.25" width="5.2" height="4.7" fill="#F781BF"/>
<text x="478.70" y="64.85" font-size="7.00" fill="#231f20" stroke="#231f20" stroke-width="0.22" textLength="39.40" lengthAdjust="spacingAndGlyphs">Macrophage</text>
<rect x="469.8" y="67.00" width="5.2" height="4.7" fill="#54B0E4"/>
<text x="478.70" y="71.60" font-size="7.00" fill="#231f20" stroke="#231f20" stroke-width="0.22" textLength="34.40" lengthAdjust="spacingAndGlyphs">Monocytes</text>
<rect x="469.8" y="73.75" width="5.2" height="4.7" fill="#E3BE00"/>
<text x="478.70" y="78.35" font-size="7.00" fill="#231f20" stroke="#231f20" stroke-width="0.22" textLength="18.60" lengthAdjust="spacingAndGlyphs">T Cell</text>
<g fill="none" stroke-linecap="round">
<path d="M109.70,238.40 Q91.46,269.77 93.50,306.00" stroke="#54B0E4" stroke-width="3.6" stroke-opacity="0.62"/>
<path d="M109.70,238.40 Q89.36,259.33 83.90,288.00" stroke="#A65628" stroke-width="1.0" stroke-opacity="0.62"/>
<path d="M109.70,238.40 Q98.21,278.33 110.60,318.00" stroke="#222F75" stroke-width="0.5" stroke-opacity="0.3"/>
<path d="M109.70,238.40 Q99.77,242.07 93.50,250.60" stroke="#F781BF" stroke-width="0.6" stroke-opacity="0.62"/>
<path d="M109.70,238.40 Q127.69,276.17 163.50,297.80" stroke="#E3BE00" stroke-width="1.8" stroke-opacity="0.62"/>
<path d="M109.70,238.40 Q132.89,267.21 168.10,278.50" stroke="#E41A1C" stroke-width="2.5" stroke-opacity="0.62"/>
<path d="M109.70,238.40 Q133.34,256.77 163.20,259.10" stroke="#377EB8" stroke-width="3.0" stroke-opacity="0.62"/>
<path d="M109.70,238.40 Q128.95,247.28 149.90,244.10" stroke="#4DAF4A" stroke-width="6.0" stroke-opacity="0.62"/>
<path d="M109.70,238.40 Q120.56,240.73 130.90,236.70" stroke="#984EA3" stroke-width="7.5" stroke-opacity="0.62"/>
</g>
<circle cx="109.7" cy="238.4" r="2.6" fill="#F29403"/>
<circle cx="130.9" cy="236.7" r="2.3" fill="#984EA3"/>
<circle cx="149.9" cy="244.1" r="2.3" fill="#4DAF4A"/>
<circle cx="163.2" cy="259.1" r="2.3" fill="#377EB8"/>
<circle cx="168.1" cy="278.5" r="2.3" fill="#E41A1C"/>
<circle cx="163.5" cy="297.8" r="2.3" fill="#E3BE00"/>
<circle cx="149.5" cy="313.0" r="2.3" fill="#B2DF8A"/>
<circle cx="130.9" cy="320.9" r="2.3" fill="#1B9E77"/>
<circle cx="110.6" cy="318.0" r="2.3" fill="#222F75"/>
<circle cx="93.5" cy="306.0" r="2.3" fill="#54B0E4"/>
<circle cx="83.9" cy="288.0" r="2.3" fill="#A65628"/>
<circle cx="85.2" cy="267.8" r="2.3" fill="#BC9DCC"/>
<circle cx="93.5" cy="250.6" r="2.3" fill="#F781BF"/>
<text x="109.70" y="226.60" font-size="6.90" fill="#231f20" stroke="#231f20" stroke-width="0.22" textLength="41.50" lengthAdjust="spacingAndGlyphs">Granulocytes</text>
<text x="92.40" y="233.50" font-size="6.90" fill="#231f20" stroke="#231f20" stroke-width="0.22" textLength="23.80" lengthAdjust="spacingAndGlyphs">LT–HSC</text>
<text x="145.90" y="237.80" font-size="6.90" fill="#231f20" stroke="#231f20" stroke-width="0.22" textLength="16.10" lengthAdjust="spacingAndGlyphs">GMP</text>
<text x="63.30" y="247.20" font-size="6.90" fill="#231f20" stroke="#231f20" stroke-width="0.22" textLength="39.20" lengthAdjust="spacingAndGlyphs">Macrophage</text>
<text x="160.90" y="255.90" font-size="6.90" fill="#231f20" stroke="#231f20" stroke-width="0.22" textLength="23.20" lengthAdjust="spacingAndGlyphs">DC cell</text>
<text x="53.50" y="271.40" font-size="6.90" fill="#231f20" stroke="#231f20" stroke-width="0.22" textLength="43.10" lengthAdjust="spacingAndGlyphs">Mature B Cell</text>
<text x="169.70" y="280.40" font-size="6.90" fill="#231f20" stroke="#231f20" stroke-width="0.22" textLength="14.40" lengthAdjust="spacingAndGlyphs">CMP</text>
<text x="68.80" y="294.60" font-size="6.90" fill="#231f20" stroke="#231f20" stroke-width="0.22" textLength="12.40" lengthAdjust="spacingAndGlyphs">MEP</text>
<text x="163.60" y="300.30" font-size="6.90" fill="#231f20" stroke="#231f20" stroke-width="0.22" textLength="17.60" lengthAdjust="spacingAndGlyphs">T Cell</text>
<text x="71.40" y="315.80" font-size="6.90" fill="#231f20" stroke="#231f20" stroke-width="0.22" textLength="34.40" lengthAdjust="spacingAndGlyphs">Monocytes</text>
<text x="144.30" y="319.90" font-size="6.90" fill="#231f20" stroke="#231f20" stroke-width="0.22" textLength="25.00" lengthAdjust="spacingAndGlyphs">ST–HSC</text>
<text x="103.80" y="326.60" font-size="6.90" fill="#231f20" stroke="#231f20" stroke-width="0.22" textLength="14.00" lengthAdjust="spacingAndGlyphs">MPP</text>
<text x="120.10" y="326.60" font-size="6.90" fill="#231f20" stroke="#231f20" stroke-width="0.22" textLength="30.40" lengthAdjust="spacingAndGlyphs">Pre B cell</text>
<g fill="none" stroke-linecap="round">
<circle cx="262.80" cy="232.80" r="3.4" stroke="#F29403" stroke-width="1.4" stroke-opacity="0.75"/>
<path d="M266.40,241.00 Q250.30,268.16 251.80,299.70" stroke="#54B0E4" stroke-width="2.0" stroke-opacity="0.62"/>
<path d="M266.40,241.00 Q248.59,259.31 243.80,284.40" stroke="#A65628" stroke-width="1.3" stroke-opacity="0.62"/>
<path d="M266.40,241.00 Q251.42,251.33 244.60,268.20" stroke="#BC9DCC" stroke-width="1.0" stroke-opacity="0.62"/>
<path d="M266.40,241.00 Q255.98,275.37 266.20,309.80" stroke="#222F75" stroke-width="2.3" stroke-opacity="0.62"/>
<path d="M266.40,241.00 Q273.18,277.97 299.20,305.10" stroke="#B2DF8A" stroke-width="2.0" stroke-opacity="0.62"/>
<path d="M266.40,241.00 Q285.93,256.94 311.00,259.50" stroke="#377EB8" stroke-width="1.5" stroke-opacity="0.62"/>
<path d="M266.40,241.00 Q257.45,244.31 251.80,252.00" stroke="#F781BF" stroke-width="4.0" stroke-opacity="0.72"/>
<path d="M266.40,241.00 Q275.14,243.29 283.70,240.40" stroke="#984EA3" stroke-width="3.5" stroke-opacity="0.62"/>
</g>
<circle cx="266.4" cy="241.0" r="2.6" fill="#F29403"/>
<circle cx="283.7" cy="240.4" r="2.3" fill="#984EA3"/>
<circle cx="299.6" cy="246.8" r="2.3" fill="#4DAF4A"/>
<circle cx="311.0" cy="259.5" r="2.3" fill="#377EB8"/>
<circle cx="315.4" cy="276.3" r="2.3" fill="#E41A1C"/>
<circle cx="310.7" cy="292.6" r="2.3" fill="#E3BE00"/>
<circle cx="299.2" cy="305.1" r="2.3" fill="#B2DF8A"/>
<circle cx="283.8" cy="311.6" r="2.3" fill="#1B9E77"/>
<circle cx="266.2" cy="309.8" r="2.3" fill="#222F75"/>
<circle cx="251.8" cy="299.7" r="2.3" fill="#54B0E4"/>
<circle cx="243.8" cy="284.4" r="2.3" fill="#A65628"/>
<circle cx="244.6" cy="268.2" r="2.3" fill="#BC9DCC"/>
<circle cx="251.8" cy="252.0" r="2.3" fill="#F781BF"/>
<text x="261.90" y="227.40" font-size="6.90" fill="#231f20" stroke="#231f20" stroke-width="0.22" textLength="40.70" lengthAdjust="spacingAndGlyphs">Granulocytes</text>
<text x="248.70" y="238.50" font-size="6.90" fill="#231f20" stroke="#231f20" stroke-width="0.22" textLength="23.10" lengthAdjust="spacingAndGlyphs">LT–HSC</text>
<text x="297.60" y="243.10" font-size="6.90" fill="#231f20" stroke="#231f20" stroke-width="0.22" textLength="15.60" lengthAdjust="spacingAndGlyphs">GMP</text>
<text x="221.80" y="249.00" font-size="6.90" fill="#231f20" stroke="#231f20" stroke-width="0.22" textLength="39.50" lengthAdjust="spacingAndGlyphs">Macrophage</text>
<text x="309.00" y="256.10" font-size="6.90" fill="#231f20" stroke="#231f20" stroke-width="0.22" textLength="23.20" lengthAdjust="spacingAndGlyphs">DC cell</text>
<text x="213.00" y="270.20" font-size="6.90" fill="#231f20" stroke="#231f20" stroke-width="0.22" textLength="43.10" lengthAdjust="spacingAndGlyphs">Mature B Cell</text>
<text x="315.60" y="278.40" font-size="6.90" fill="#231f20" stroke="#231f20" stroke-width="0.22" textLength="14.40" lengthAdjust="spacingAndGlyphs">CMP</text>
<text x="230.50" y="290.40" font-size="6.90" fill="#231f20" stroke="#231f20" stroke-width="0.22" textLength="12.40" lengthAdjust="spacingAndGlyphs">MEP</text>
<text x="310.20" y="294.80" font-size="6.90" fill="#231f20" stroke="#231f20" stroke-width="0.22" textLength="17.60" lengthAdjust="spacingAndGlyphs">T Cell</text>
<text x="229.50" y="307.80" font-size="6.90" fill="#231f20" stroke="#231f20" stroke-width="0.22" textLength="34.40" lengthAdjust="spacingAndGlyphs">Monocytes</text>
<text x="292.80" y="311.40" font-size="6.90" fill="#231f20" stroke="#231f20" stroke-width="0.22" textLength="24.60" lengthAdjust="spacingAndGlyphs">ST–HSC</text>
<text x="258.50" y="319.30" font-size="6.90" fill="#231f20" stroke="#231f20" stroke-width="0.22" textLength="14.00" lengthAdjust="spacingAndGlyphs">MPP</text>
<text x="274.80" y="319.10" font-size="6.90" fill="#231f20" stroke="#231f20" stroke-width="0.22" textLength="29.50" lengthAdjust="spacingAndGlyphs">Pre B cell</text>
<g fill="none" stroke-linecap="round">
<circle cx="412.40" cy="229.80" r="3.4" stroke="#F29403" stroke-width="1.4" stroke-opacity="0.75"/>
<path d="M416.00,238.00 Q400.62,248.21 393.40,265.20" stroke="#BC9DCC" stroke-width="1.4" stroke-opacity="0.62"/>
<path d="M416.00,238.00 Q405.48,273.43 416.20,308.80" stroke="#222F75" stroke-width="2.5" stroke-opacity="0.62"/>
<path d="M416.00,238.00 Q423.65,276.26 451.10,304.00" stroke="#B2DF8A" stroke-width="1.6" stroke-opacity="0.62"/>
<path d="M416.00,238.00 Q436.72,254.51 463.10,256.90" stroke="#377EB8" stroke-width="1.5" stroke-opacity="0.62"/>
<path d="M416.00,238.00 Q406.66,241.68 400.90,249.90" stroke="#F781BF" stroke-width="6.0" stroke-opacity="0.72"/>
<path d="M416.00,238.00 Q425.00,240.32 433.80,237.30" stroke="#984EA3" stroke-width="5.5" stroke-opacity="0.62"/>
</g>
<circle cx="416.0" cy="238.0" r="2.6" fill="#F29403"/>
<circle cx="433.8" cy="237.3" r="2.3" fill="#984EA3"/>
<circle cx="451.1" cy="243.5" r="2.3" fill="#4DAF4A"/>
<circle cx="463.1" cy="256.9" r="2.3" fill="#377EB8"/>
<circle cx="467.3" cy="274.3" r="2.3" fill="#E41A1C"/>
<circle cx="462.3" cy="291.2" r="2.3" fill="#E3BE00"/>
<circle cx="451.1" cy="304.0" r="2.3" fill="#B2DF8A"/>
<circle cx="433.8" cy="310.5" r="2.3" fill="#1B9E77"/>
<circle cx="416.2" cy="308.8" r="2.3" fill="#222F75"/>
<circle cx="401.4" cy="298.5" r="2.3" fill="#54B0E4"/>
<circle cx="392.9" cy="283.1" r="2.3" fill="#A65628"/>
<circle cx="393.4" cy="265.2" r="2.3" fill="#BC9DCC"/>
<circle cx="400.9" cy="249.9" r="2.3" fill="#F781BF"/>
<text x="416.10" y="228.90" font-size="6.90" fill="#231f20" stroke="#231f20" stroke-width="0.22" textLength="40.70" lengthAdjust="spacingAndGlyphs">Granulocytes</text>
<text x="400.10" y="234.80" font-size="6.90" fill="#231f20" stroke="#231f20" stroke-width="0.22" textLength="23.80" lengthAdjust="spacingAndGlyphs">LT–HSC</text>
<text x="447.60" y="240.10" font-size="6.90" fill="#231f20" stroke="#231f20" stroke-width="0.22" textLength="15.60" lengthAdjust="spacingAndGlyphs">GMP</text>
<text x="371.80" y="246.40" font-size="6.90" fill="#231f20" stroke="#231f20" stroke-width="0.22" textLength="39.50" lengthAdjust="spacingAndGlyphs">Macrophage</text>
<text x="459.60" y="254.10" font-size="6.90" fill="#231f20" stroke="#231f20" stroke-width="0.22" textLength="23.20" lengthAdjust="spacingAndGlyphs">DC cell</text>
<text x="361.00" y="267.20" font-size="6.90" fill="#231f20" stroke="#231f20" stroke-width="0.22" textLength="43.10" lengthAdjust="spacingAndGlyphs">Mature B Cell</text>
<text x="467.60" y="276.10" font-size="6.90" fill="#231f20" stroke="#231f20" stroke-width="0.22" textLength="14.40" lengthAdjust="spacingAndGlyphs">CMP</text>
<text x="377.80" y="288.70" font-size="6.90" fill="#231f20" stroke="#231f20" stroke-width="0.22" textLength="12.40" lengthAdjust="spacingAndGlyphs">MEP</text>
<text x="462.70" y="293.40" font-size="6.90" fill="#231f20" stroke="#231f20" stroke-width="0.22" textLength="17.60" lengthAdjust="spacingAndGlyphs">T Cell</text>
<text x="377.40" y="306.00" font-size="6.90" fill="#231f20" stroke="#231f20" stroke-width="0.22" textLength="34.40" lengthAdjust="spacingAndGlyphs">Monocytes</text>
<text x="444.20" y="310.40" font-size="6.90" fill="#231f20" stroke="#231f20" stroke-width="0.22" textLength="24.40" lengthAdjust="spacingAndGlyphs">ST–HSC</text>
<text x="407.20" y="317.00" font-size="6.90" fill="#231f20" stroke="#231f20" stroke-width="0.22" textLength="14.00" lengthAdjust="spacingAndGlyphs">MPP</text>
<text x="424.50" y="316.80" font-size="6.90" fill="#231f20" stroke="#231f20" stroke-width="0.22" textLength="30.00" lengthAdjust="spacingAndGlyphs">Pre B cell</text>
<g fill="none" stroke-linecap="round">
<path d="M133.00,386.20 Q116.90,412.44 117.90,443.20" stroke="#54B0E4" stroke-width="8.0" stroke-opacity="0.62"/>
<path d="M133.00,386.20 Q147.84,418.50 178.00,437.30" stroke="#E3BE00" stroke-width="6.8" stroke-opacity="0.62"/>
<path d="M133.00,386.20 Q141.77,387.85 150.00,384.40" stroke="#984EA3" stroke-width="5.5" stroke-opacity="0.62"/>
</g>
<circle cx="133.0" cy="386.2" r="2.6" fill="#F29403"/>
<circle cx="150.0" cy="384.4" r="2.3" fill="#984EA3"/>
<circle cx="166.2" cy="390.5" r="2.3" fill="#4DAF4A"/>
<circle cx="177.7" cy="403.9" r="2.3" fill="#377EB8"/>
<circle cx="181.8" cy="420.1" r="2.3" fill="#E41A1C"/>
<circle cx="178.0" cy="437.3" r="2.3" fill="#E3BE00"/>
<circle cx="166.6" cy="450.0" r="2.3" fill="#B2DF8A"/>
<circle cx="150.0" cy="455.8" r="2.3" fill="#1B9E77"/>
<circle cx="132.6" cy="453.8" r="2.3" fill="#222F75"/>
<circle cx="117.9" cy="443.2" r="2.3" fill="#54B0E4"/>
<circle cx="110.0" cy="428.3" r="2.3" fill="#A65628"/>
<circle cx="110.3" cy="411.2" r="2.3" fill="#BC9DCC"/>
<circle cx="117.9" cy="396.5" r="2.3" fill="#F781BF"/>
<text x="133.20" y="375.90" font-size="6.90" fill="#231f20" stroke="#231f20" stroke-width="0.22" textLength="40.30" lengthAdjust="spacingAndGlyphs">Granulocytes</text>
<text x="116.80" y="381.80" font-size="6.90" fill="#231f20" stroke="#231f20" stroke-width="0.22" textLength="24.20" lengthAdjust="spacingAndGlyphs">LT–HSC</text>
<text x="163.80" y="386.40" font-size="6.90" fill="#231f20" stroke="#231f20" stroke-width="0.22" textLength="15.40" lengthAdjust="spacingAndGlyphs">GMP</text>
<text x="89.00" y="393.40" font-size="6.90" fill="#231f20" stroke="#231f20" stroke-width="0.22" textLength="39.40" lengthAdjust="spacingAndGlyphs">Macrophage</text>
<text x="175.60" y="400.70" font-size="6.90" fill="#231f20" stroke="#231f20" stroke-width="0.22" textLength="23.20" lengthAdjust="spacingAndGlyphs">DC cell</text>
<text x="78.50" y="413.90" font-size="6.90" fill="#231f20" stroke="#231f20" stroke-width="0.22" textLength="42.00" lengthAdjust="spacingAndGlyphs">Mature B Cell</text>
<text x="183.60" y="421.50" font-size="6.90" fill="#231f20" stroke="#231f20" stroke-width="0.22" textLength="14.40" lengthAdjust="spacingAndGlyphs">CMP</text>
<text x="96.50" y="434.30" font-size="6.90" fill="#231f20" stroke="#231f20" stroke-width="0.22" textLength="12.40" lengthAdjust="spacingAndGlyphs">MEP</text>
<text x="176.00" y="439.00" font-size="6.90" fill="#231f20" stroke="#231f20" stroke-width="0.22" textLength="17.60" lengthAdjust="spacingAndGlyphs">T Cell</text>
<text x="95.00" y="448.60" font-size="6.90" fill="#231f20" stroke="#231f20" stroke-width="0.22" textLength="34.40" lengthAdjust="spacingAndGlyphs">Monocytes</text>
<text x="160.90" y="454.30" font-size="6.90" fill="#231f20" stroke="#231f20" stroke-width="0.22" textLength="24.80" lengthAdjust="spacingAndGlyphs">ST–HSC</text>
<text x="125.20" y="461.20" font-size="6.90" fill="#231f20" stroke="#231f20" stroke-width="0.22" textLength="14.00" lengthAdjust="spacingAndGlyphs">MPP</text>
<text x="141.00" y="461.60" font-size="6.90" fill="#231f20" stroke="#231f20" stroke-width="0.22" textLength="29.50" lengthAdjust="spacingAndGlyphs">Pre B cell</text>
<line x1="245.4" y1="373.80" x2="245.4" y2="445.90" stroke="#111" stroke-width="1.2"/>
<line x1="244.80" y1="445.3" x2="292.40" y2="445.3" stroke="#111" stroke-width="1.2"/>
<line x1="242.40" y1="445.30" x2="245.4" y2="445.30" stroke="#111" stroke-width="0.9"/>
<text x="239.20" y="447.80" font-size="7.00" fill="#222" stroke="#222" stroke-width="0.22" text-anchor="end">0</text>
<line x1="242.40" y1="431.10" x2="245.4" y2="431.10" stroke="#111" stroke-width="0.9"/>
<text x="239.20" y="433.60" font-size="7.00" fill="#222" stroke="#222" stroke-width="0.22" text-anchor="end">1</text>
<line x1="242.40" y1="416.90" x2="245.4" y2="416.90" stroke="#111" stroke-width="0.9"/>
<text x="239.20" y="419.40" font-size="7.00" fill="#222" stroke="#222" stroke-width="0.22" text-anchor="end">2</text>
<line x1="242.40" y1="402.70" x2="245.4" y2="402.70" stroke="#111" stroke-width="0.9"/>
<text x="239.20" y="405.20" font-size="7.00" fill="#222" stroke="#222" stroke-width="0.22" text-anchor="end">3</text>
<line x1="242.40" y1="388.50" x2="245.4" y2="388.50" stroke="#111" stroke-width="0.9"/>
<text x="239.20" y="391.00" font-size="7.00" fill="#222" stroke="#222" stroke-width="0.22" text-anchor="end">4</text>
<line x1="242.40" y1="374.30" x2="245.4" y2="374.30" stroke="#111" stroke-width="0.9"/>
<text x="239.20" y="376.80" font-size="7.00" fill="#222" stroke="#222" stroke-width="0.22" text-anchor="end">5</text>
<rect x="253.1" y="398.2" width="12.40" height="47.10" fill="#ee8e82"/>
<line x1="259.30" y1="445.3" x2="259.30" y2="448.50" stroke="#111" stroke-width="0.9"/>
<rect x="273.0" y="417.2" width="13.10" height="28.10" fill="#8d9bcc"/>
<line x1="279.55" y1="445.3" x2="279.55" y2="448.50" stroke="#111" stroke-width="0.9"/>
<line x1="259.30" y1="392.8" x2="259.30" y2="403.6" stroke="#b8122f" stroke-width="1"/>
<line x1="256.70" y1="392.8" x2="261.90" y2="392.8" stroke="#b8122f" stroke-width="1"/>
<line x1="256.70" y1="403.6" x2="261.90" y2="403.6" stroke="#b8122f" stroke-width="1"/>
<line x1="279.55" y1="414.8" x2="279.55" y2="419.8" stroke="#1a4383" stroke-width="1"/>
<line x1="276.95" y1="414.8" x2="282.15" y2="414.8" stroke="#1a4383" stroke-width="1"/>
<line x1="276.95" y1="419.8" x2="282.15" y2="419.8" stroke="#1a4383" stroke-width="1"/>
<circle cx="259.3" cy="381.4" r="1.65" fill="#b8122f"/>
<circle cx="259.3" cy="393.6" r="1.65" fill="#b8122f"/>
<circle cx="255.9" cy="399.9" r="1.65" fill="#b8122f"/>
<circle cx="261.8" cy="399.6" r="1.65" fill="#b8122f"/>
<circle cx="259.0" cy="400.5" r="1.65" fill="#b8122f"/>
<circle cx="255.9" cy="406.6" r="1.65" fill="#b8122f"/>
<circle cx="261.8" cy="405.6" r="1.65" fill="#b8122f"/>
<circle cx="279.4" cy="412.2" r="1.65" fill="#1a4383"/>
<circle cx="273.9" cy="415.6" r="1.65" fill="#1a4383"/>
<circle cx="284.9" cy="415.6" r="1.65" fill="#1a4383"/>
<circle cx="279.4" cy="417.8" r="1.65" fill="#1a4383"/>
<circle cx="273.9" cy="422.0" r="1.65" fill="#1a4383"/>
<circle cx="284.9" cy="421.0" r="1.65" fill="#1a4383"/>
<line x1="258.8" y1="377.6" x2="279.9" y2="377.6" stroke="#111" stroke-width="1"/>
<text x="269.35" y="379.20" font-size="10.50" fill="#111" text-anchor="middle" font-weight="bold" textLength="11.60" lengthAdjust="spacingAndGlyphs">***</text>
<text x="251.20" y="365.50" font-size="8.40" fill="#231f20" stroke="#231f20" stroke-width="0.22" textLength="36.50" lengthAdjust="spacingAndGlyphs">BM IL-1β</text>
<text x="229.00" y="408.60" font-size="8.00" fill="#222" stroke="#222" stroke-width="0.22" text-anchor="middle" transform="rotate(-90.00 229.00 408.60)">pg/ml</text>
<text x="259.00" y="457.50" font-size="6.70" fill="#222" stroke="#222" stroke-width="0.22" text-anchor="end" textLength="24.50" lengthAdjust="spacingAndGlyphs" transform="rotate(-45.00 259.00 457.50)">FMT-AA</text>
<text x="279.25" y="457.50" font-size="6.70" fill="#222" stroke="#222" stroke-width="0.22" text-anchor="end" textLength="24.50" lengthAdjust="spacingAndGlyphs" transform="rotate(-45.00 279.25 457.50)">FMT-YA</text>
<line x1="332.0" y1="373.20" x2="332.0" y2="445.70" stroke="#111" stroke-width="1.2"/>
<line x1="331.40" y1="445.1" x2="379.00" y2="445.1" stroke="#111" stroke-width="1.2"/>
<line x1="329.00" y1="445.10" x2="332.0" y2="445.10" stroke="#111" stroke-width="0.9"/>
<text x="327.30" y="447.60" font-size="7.00" fill="#222" stroke="#222" stroke-width="0.22" text-anchor="end">0</text>
<line x1="329.00" y1="430.82" x2="332.0" y2="430.82" stroke="#111" stroke-width="0.9"/>
<text x="327.30" y="433.32" font-size="7.00" fill="#222" stroke="#222" stroke-width="0.22" text-anchor="end">50</text>
<line x1="329.00" y1="416.54" x2="332.0" y2="416.54" stroke="#111" stroke-width="0.9"/>
<text x="327.30" y="419.04" font-size="7.00" fill="#222" stroke="#222" stroke-width="0.22" text-anchor="end">100</text>
<line x1="329.00" y1="402.26" x2="332.0" y2="402.26" stroke="#111" stroke-width="0.9"/>
<text x="327.30" y="404.76" font-size="7.00" fill="#222" stroke="#222" stroke-width="0.22" text-anchor="end">150</text>
<line x1="329.00" y1="387.98" x2="332.0" y2="387.98" stroke="#111" stroke-width="0.9"/>
<text x="327.30" y="390.48" font-size="7.00" fill="#222" stroke="#222" stroke-width="0.22" text-anchor="end">200</text>
<line x1="329.00" y1="373.70" x2="332.0" y2="373.70" stroke="#111" stroke-width="0.9"/>
<text x="327.30" y="376.20" font-size="7.00" fill="#222" stroke="#222" stroke-width="0.22" text-anchor="end">250</text>
<rect x="339.1" y="416.0" width="12.80" height="29.10" fill="#ee8e82"/>
<line x1="345.50" y1="445.1" x2="345.50" y2="448.30" stroke="#111" stroke-width="0.9"/>
<rect x="359.3" y="435.6" width="13.20" height="9.50" fill="#8d9bcc"/>
<line x1="365.90" y1="445.1" x2="365.90" y2="448.30" stroke="#111" stroke-width="0.9"/>
<line x1="345.50" y1="405.7" x2="345.50" y2="424.1" stroke="#b8122f" stroke-width="1"/>
<line x1="342.90" y1="405.7" x2="348.10" y2="405.7" stroke="#b8122f" stroke-width="1"/>
<line x1="342.90" y1="424.1" x2="348.10" y2="424.1" stroke="#b8122f" stroke-width="1"/>
<line x1="365.90" y1="432.0" x2="365.90" y2="439.5" stroke="#1a4383" stroke-width="1"/>
<line x1="363.30" y1="432.0" x2="368.50" y2="432.0" stroke="#1a4383" stroke-width="1"/>
<line x1="363.30" y1="439.5" x2="368.50" y2="439.5" stroke="#1a4383" stroke-width="1"/>
<circle cx="345.3" cy="392.5" r="1.65" fill="#b8122f"/>
<circle cx="350.9" cy="391.0" r="1.65" fill="#b8122f"/>
<circle cx="345.6" cy="398.8" r="1.65" fill="#b8122f"/>
<circle cx="340.1" cy="437.4" r="1.65" fill="#b8122f"/>
<circle cx="345.6" cy="435.1" r="1.65" fill="#b8122f"/>
<circle cx="350.9" cy="437.1" r="1.65" fill="#b8122f"/>
<circle cx="362.0" cy="434.0" r="1.65" fill="#1a4383"/>
<circle cx="365.9" cy="430.7" r="1.65" fill="#1a4383"/>
<circle cx="369.5" cy="435.2" r="1.65" fill="#1a4383"/>
<circle cx="362.0" cy="439.2" r="1.65" fill="#1a4383"/>
<circle cx="366.2" cy="438.5" r="1.65" fill="#1a4383"/>
<circle cx="370.5" cy="439.0" r="1.65" fill="#1a4383"/>
<line x1="345.7" y1="376.7" x2="366.3" y2="376.7" stroke="#111" stroke-width="1"/>
<text x="356.00" y="378.30" font-size="10.50" fill="#111" text-anchor="middle" font-weight="bold" textLength="3.80" lengthAdjust="spacingAndGlyphs">*</text>
<text x="334.90" y="364.60" font-size="8.40" fill="#231f20" stroke="#231f20" stroke-width="0.22" textLength="42.20" lengthAdjust="spacingAndGlyphs">BM TNF-α</text>
<text x="311.30" y="410.00" font-size="8.00" fill="#222" stroke="#222" stroke-width="0.22" text-anchor="middle" transform="rotate(-90.00 311.30 410.00)">pg/ml</text>
<text x="345.20" y="457.30" font-size="6.70" fill="#222" stroke="#222" stroke-width="0.22" text-anchor="end" textLength="24.50" lengthAdjust="spacingAndGlyphs" transform="rotate(-45.00 345.20 457.30)">FMT-AA</text>
<text x="365.60" y="457.30" font-size="6.70" fill="#222" stroke="#222" stroke-width="0.22" text-anchor="end" textLength="24.50" lengthAdjust="spacingAndGlyphs" transform="rotate(-45.00 365.60 457.30)">FMT-YA</text>
<line x1="414.3" y1="373.20" x2="414.3" y2="446.30" stroke="#111" stroke-width="1.2"/>
<line x1="413.70" y1="445.7" x2="461.30" y2="445.7" stroke="#111" stroke-width="1.2"/>
<line x1="411.30" y1="445.70" x2="414.3" y2="445.70" stroke="#111" stroke-width="0.9"/>
<text x="408.60" y="448.20" font-size="7.00" fill="#222" stroke="#222" stroke-width="0.22" text-anchor="end">0</text>
<line x1="411.30" y1="421.70" x2="414.3" y2="421.70" stroke="#111" stroke-width="0.9"/>
<text x="408.60" y="424.20" font-size="7.00" fill="#222" stroke="#222" stroke-width="0.22" text-anchor="end">5</text>
<line x1="411.30" y1="397.70" x2="414.3" y2="397.70" stroke="#111" stroke-width="0.9"/>
<text x="408.60" y="400.20" font-size="7.00" fill="#222" stroke="#222" stroke-width="0.22" text-anchor="end">10</text>
<line x1="411.30" y1="373.70" x2="414.3" y2="373.70" stroke="#111" stroke-width="0.9"/>
<text x="408.60" y="376.20" font-size="7.00" fill="#222" stroke="#222" stroke-width="0.22" text-anchor="end">15</text>
<rect x="422.0" y="415.7" width="12.90" height="30.00" fill="#ee8e82"/>
<line x1="428.45" y1="445.7" x2="428.45" y2="448.90" stroke="#111" stroke-width="0.9"/>
<rect x="442.0" y="432.9" width="12.90" height="12.80" fill="#8d9bcc"/>
<line x1="448.45" y1="445.7" x2="448.45" y2="448.90" stroke="#111" stroke-width="0.9"/>
<line x1="428.45" y1="408.0" x2="428.45" y2="422.9" stroke="#b8122f" stroke-width="1"/>
<line x1="425.85" y1="408.0" x2="431.05" y2="408.0" stroke="#b8122f" stroke-width="1"/>
<line x1="425.85" y1="422.9" x2="431.05" y2="422.9" stroke="#b8122f" stroke-width="1"/>
<line x1="448.45" y1="431.0" x2="448.45" y2="436.0" stroke="#1a4383" stroke-width="1"/>
<line x1="445.85" y1="431.0" x2="451.05" y2="431.0" stroke="#1a4383" stroke-width="1"/>
<line x1="445.85" y1="436.0" x2="451.05" y2="436.0" stroke="#1a4383" stroke-width="1"/>
<circle cx="425.7" cy="397.1" r="1.65" fill="#b8122f"/>
<circle cx="430.9" cy="395.7" r="1.65" fill="#b8122f"/>
<circle cx="428.0" cy="402.9" r="1.65" fill="#b8122f"/>
<circle cx="422.9" cy="432.0" r="1.65" fill="#b8122f"/>
<circle cx="428.0" cy="429.1" r="1.65" fill="#b8122f"/>
<circle cx="433.7" cy="432.0" r="1.65" fill="#b8122f"/>
<circle cx="444.5" cy="433.0" r="1.65" fill="#1a4383"/>
<circle cx="448.5" cy="432.5" r="1.65" fill="#1a4383"/>
<circle cx="452.5" cy="433.0" r="1.65" fill="#1a4383"/>
<circle cx="444.5" cy="437.5" r="1.65" fill="#1a4383"/>
<circle cx="448.5" cy="437.5" r="1.65" fill="#1a4383"/>
<circle cx="452.5" cy="437.0" r="1.65" fill="#1a4383"/>
<line x1="428.0" y1="377.7" x2="448.6" y2="377.7" stroke="#111" stroke-width="1"/>
<text x="438.30" y="379.30" font-size="10.50" fill="#111" text-anchor="middle" font-weight="bold" textLength="8.00" lengthAdjust="spacingAndGlyphs">**</text>
<text x="415.70" y="365.10" font-size="8.40" fill="#231f20" stroke="#231f20" stroke-width="0.22" textLength="44.90" lengthAdjust="spacingAndGlyphs">BM CXCL1</text>
<text x="395.50" y="407.80" font-size="8.00" fill="#222" stroke="#222" stroke-width="0.22" text-anchor="middle" transform="rotate(-90.00 395.50 407.80)">pg/ml</text>
<text x="428.15" y="457.90" font-size="6.70" fill="#222" stroke="#222" stroke-width="0.22" text-anchor="end" textLength="24.50" lengthAdjust="spacingAndGlyphs" transform="rotate(-45.00 428.15 457.90)">FMT-AA</text>
<text x="448.15" y="457.90" font-size="6.70" fill="#222" stroke="#222" stroke-width="0.22" text-anchor="end" textLength="24.50" lengthAdjust="spacingAndGlyphs" transform="rotate(-45.00 448.15 457.90)">FMT-YA</text>
</svg></body></html>
